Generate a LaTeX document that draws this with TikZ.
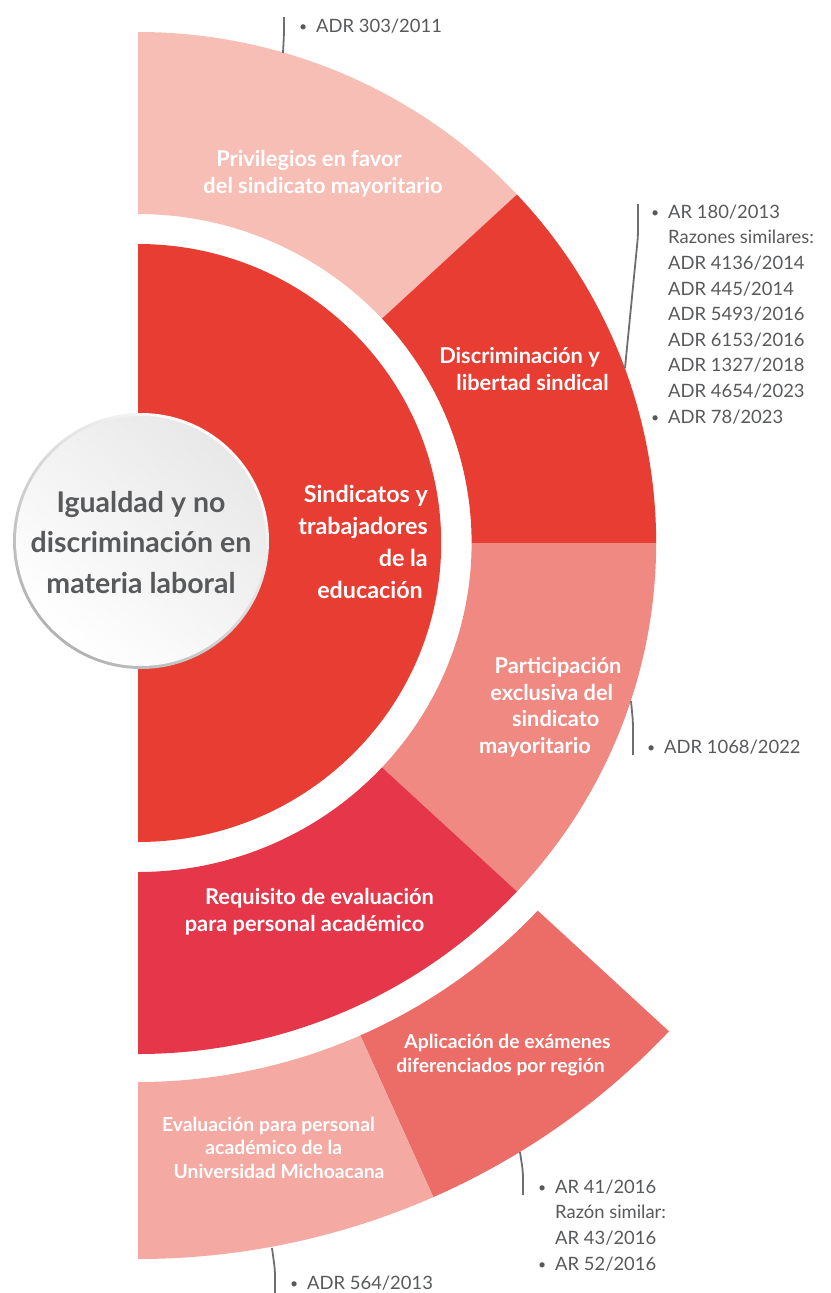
\documentclass[tikz,border=0pt]{standalone}
\usepackage{fontspec}
\setmainfont{Lato}
\definecolor{cPriv}{HTML}{F7BEB6}
\definecolor{cDisc}{HTML}{E73D32}
\definecolor{cPart}{HTML}{F08982}
\definecolor{cReq}{HTML}{E5364A}
\definecolor{cApl}{HTML}{EC6D67}
\definecolor{cEval}{HTML}{F4AAA2}
\definecolor{txtgray}{HTML}{58595B}
\definecolor{linegray}{HTML}{6D6E71}
\newcommand\shiftln[2]{\hspace*{#1}#2\hspace*{-#1}}
\newcommand\bul{\llap{\raisebox{1pt}{\fontsize{14}{14}\selectfont •}\hspace{9pt}}}
\newcommand\xs{1.014}
% annular sector: colour, start angle, end angle, inner radius, outer radius
\newcommand\annsec[5]{%
  \fill[#1] ({138+\xs*#4*cos(#2)},{543+#4*sin(#2)})
    arc[start angle=#2,end angle=#3,x radius={\xs*#4},y radius=#4]
    -- ({138+\xs*#5*cos(#3)},{543+#5*sin(#3)})
    arc[start angle=#3,end angle=#2,x radius={\xs*#5},y radius=#5] -- cycle;}
\begin{document}
\begin{tikzpicture}[x=1pt,y=-1pt,
  lab/.style={text=white,font=\bfseries\fontsize{21.8}{26.5}\selectfont,align=center,inner sep=0pt,anchor=base},
  smalllab/.style={lab,font=\bfseries\fontsize{19.3}{23.5}\selectfont},
  listtxt/.style={text=txtgray,font=\fontsize{18.4}{25.6}\selectfont,align=left,inner sep=0pt,anchor=base west},
  leader/.style={draw=linegray,line width=1.8pt,rounded corners=6pt}]
\useasboundingbox (0,0) rectangle (830,1293);
% inner half disc
\fill[cDisc] (138,244) arc[start angle=-90,end angle=90,x radius={\xs*299},y radius=299] -- cycle;
% first ring
\annsec{cPriv}{-90}{-43}{329}{511}
\annsec{cDisc}{-43}{0}{329}{511}
\annsec{cPart}{0}{43}{329}{511}
\annsec{cReq}{43}{90}{329}{511}
% second ring
\annsec{cApl}{43}{66}{539}{716}
\annsec{cEval}{66}{90}{539}{716}
% central circle
\shade[top color=white,bottom color=black!30,shading angle=-40] (141,541) circle (128);
\shade[top color=black!9,bottom color=white,shading angle=-40] (141,541) circle (125);
\node[text=txtgray,font=\bfseries\fontsize{28.5}{40.5}\selectfont,align=center,inner sep=0pt,anchor=base] (main) at (141,593)
  {Igualdad y no\\discriminación en\\materia laboral};
% sector labels
\node[lab,font=\bfseries\fontsize{23.3}{31.7}\selectfont,align=right,anchor=base east] (sind) at (428,598)
  {Sindicatos y\\trabajadores\\de la\\educación\hspace*{5pt}};
\node[lab] (priv) at (316,193) {\shiftln{-7pt}{Privilegios en favor}\\\shiftln{7pt}{del sindicato mayoritario}};
\node[lab] (disc) at (526,390) {\shiftln{-6.5pt}{Discriminación y}\\\shiftln{6.5pt}{libertad sindical}};
\node[lab] (part) at (552,753) {\shiftln{6pt}{Participación}\\\shiftln{-0.5pt}{exclusiva del}\\\shiftln{7.5pt}{sindicato}\\\shiftln{-17pt}{mayoritario}};
\node[lab] (req) at (312,931) {\shiftln{7.5pt}{Requisito de evaluación}\\\shiftln{-7.5pt}{para personal académico}};
\node[smalllab] (apl) at (504,1072) {\shiftln{3.5pt}{Aplicación de exámenes}\\\shiftln{-3.5pt}{diferenciados por región}};
\node[smalllab] (eval) at (274,1178) {\shiftln{-5.5pt}{Evaluación para personal}\\\shiftln{-0.5pt}{académico de la}\\\shiftln{5pt}{Universidad Michoacana}};
% case lists
\node[listtxt] (l303) at (316,32) {\bul ADR 303/2011};
\node[listtxt] (l180) at (668,423) {\bul AR 180/2013\\Razones similares:\\ADR 4136/2014\\ADR 445/2014\\ADR 5493/2016\\ADR 6153/2016\\ADR 1327/2018\\ADR 4654/2023\\\bul ADR 78/2023};
\node[listtxt] (l1068) at (664,753) {\bul ADR 1068/2022};
\node[listtxt] (l41) at (555,1270) {\bul AR 41/2016\\Razón similar:\\AR 43/2016\\\bul AR 52/2016};
\node[listtxt] (l564) at (307,1289) {\bul ADR 564/2013};
% leader lines
\coordinate (t303) at (284,17);  \coordinate (s303) at (283,53);
\coordinate (t180) at (638,204); \coordinate (s180) at (625,368);
\coordinate (t1068) at (633,755); \coordinate (s1068) at (631,701);
\coordinate (t41) at (523,1195); \coordinate (s41) at (520,1152);
\coordinate (t564) at (275,1293); \coordinate (s564) at (272,1248);
\draw[leader] (t303) -- (284,34) -- (s303);
\draw[leader] (t180) -- (638,236) -- (s180);
\draw[leader] (s1068) -- (633,722) -- (t1068);
\draw[leader] (s41) -- (523,1172) -- (t41);
\draw[leader] (s564) -- (275,1270) -- (t564);
\end{tikzpicture}
\end{document}
